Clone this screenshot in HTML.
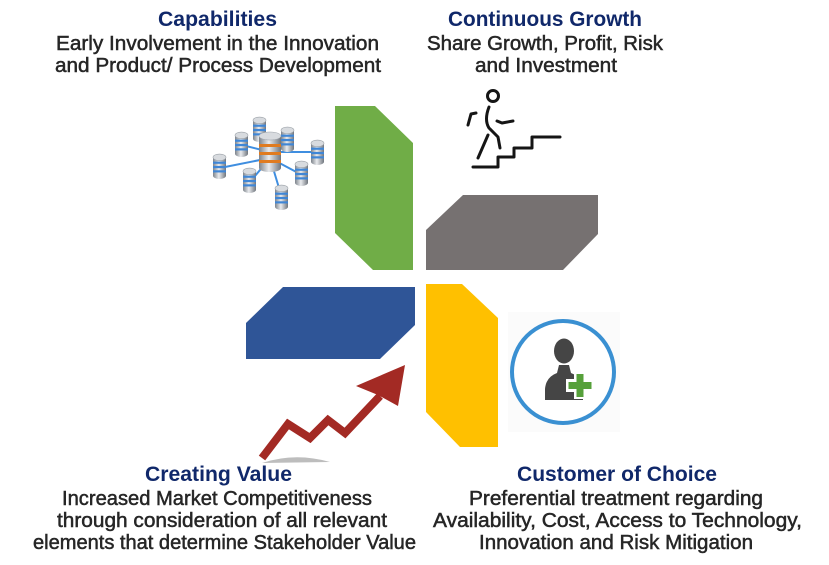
<!DOCTYPE html>
<html><head><meta charset="utf-8"><style>
html,body{margin:0;padding:0;background:#fff;}
svg{display:block;}
.t{font-family:"Liberation Sans","Noto Sans CJK JP",sans-serif;font-weight:bold;font-size:21px;fill:#10286a;}
.b{font-family:"Liberation Sans","Noto Sans CJK JP",sans-serif;font-size:20px;fill:#262626;stroke:#262626;stroke-width:0.5px;}
</style></head><body>
<svg width="829" height="565" viewBox="0 0 829 565" xmlns="http://www.w3.org/2000/svg">
<defs>
<linearGradient id="cg" x1="0" x2="1" y1="0" y2="0">
<stop offset="0" stop-color="#7d838b"/><stop offset="0.45" stop-color="#e9ebee"/><stop offset="1" stop-color="#6f757d"/>
</linearGradient>
<symbol id="cyl" viewBox="0 0 12 23" overflow="visible">
<rect x="0" y="3" width="12" height="17" fill="url(#cg)"/>
<ellipse cx="6" cy="20" rx="6" ry="3" fill="url(#cg)"/>
<rect x="0" y="7" width="12" height="2" fill="#3f86d6"/>
<rect x="0" y="11" width="12" height="2" fill="#3f86d6"/>
<rect x="0" y="15" width="12" height="2" fill="#3f86d6"/>
<ellipse cx="6" cy="3" rx="6" ry="3" fill="#d8dbdf" stroke="#9aa0a7" stroke-width="0.5"/>
</symbol>
</defs>

<!-- shapes -->
<polygon points="335,106 375,106 413,143 413,270 373,270 335,233" fill="#70ad47"/>
<polygon points="426,230 463,195 598,195 598,234 563,270 426,270" fill="#767171"/>
<polygon points="246,323 283,287 415,287 415,325 380,359 246,359" fill="#2f5597"/>
<polygon points="426,284 462,284 498,318 498,447 460,447 426,412" fill="#ffc000"/>

<!-- database icon -->
<g stroke="#3f8ee0" stroke-width="2">
<line x1="270" y1="152" x2="260" y2="130"/>
<line x1="270" y1="152" x2="242" y2="145"/>
<line x1="270" y1="152" x2="288" y2="140"/>
<line x1="270" y1="152" x2="318" y2="152"/>
<line x1="270" y1="158" x2="220" y2="168"/>
<line x1="270" y1="158" x2="250" y2="182"/>
<line x1="270" y1="158" x2="302" y2="175"/>
<line x1="270" y1="158" x2="282" y2="198"/>
</g>
<use href="#cyl" x="253" y="117" width="13" height="25"/>
<use href="#cyl" x="235" y="132" width="13" height="25"/>
<use href="#cyl" x="281" y="127" width="13" height="25"/>
<use href="#cyl" x="311" y="140" width="13" height="25"/>
<g>
<rect x="259" y="136" width="22" height="32" fill="url(#cg)"/>
<ellipse cx="270" cy="168" rx="11" ry="4" fill="url(#cg)"/>
<rect x="259" y="144" width="22" height="3" fill="#e07b20"/>
<rect x="259" y="152" width="22" height="3" fill="#e07b20"/>
<rect x="259" y="160" width="22" height="3" fill="#e07b20"/>
<ellipse cx="270" cy="136" rx="11" ry="4" fill="#d8dbdf" stroke="#9aa0a7" stroke-width="0.5"/>
</g>
<use href="#cyl" x="213" y="154" width="13" height="25"/>
<use href="#cyl" x="243" y="168" width="13" height="25"/>
<use href="#cyl" x="295" y="161" width="13" height="25"/>
<use href="#cyl" x="275" y="185" width="13" height="25"/>

<!-- walking man -->
<g fill="none" stroke="#151515" stroke-width="3" stroke-linecap="round" stroke-linejoin="round">
<circle cx="493" cy="96" r="5.5"/>
<path d="M489,107 Q484,120 489,128 L498,137 L500,148"/>
<path d="M476,113 L471,114 L468,125"/>
<path d="M497,121 L502,123 L513,121"/>
<path d="M488,135 L478,158"/>
<path d="M473,167 L498,167 L498,157 L514,157 L514,148 L532,148 L532,137 L560,137"/>
</g>

<!-- customer icon -->
<rect x="508" y="312" width="112" height="120" fill="#fbfbfb"/>
<circle cx="563" cy="372" r="51" fill="#fff" stroke="#3a90d2" stroke-width="4"/>
<ellipse cx="564" cy="351" rx="10" ry="12.5" fill="#454545"/>
<path d="M545,400 L545,389 Q546,377 557,373 L559,365 L569,365 L571,373 Q582,377 583,389 L583,400 Z" fill="#454545"/>
<g>
<rect x="574" y="372" width="12" height="27" fill="#fff"/>
<rect x="566" y="379" width="28" height="13" fill="#fff"/>
<rect x="576.5" y="374" width="7" height="23" fill="#56a03a"/>
<rect x="568.5" y="382" width="23" height="7" fill="#56a03a"/>
</g>

<!-- arrow -->
<path d="M262,463 Q295,452 330,462 Z" fill="#bdbdbd"/>
<polyline points="262,458 288,424 310,438 328,420 345,433 380,396" fill="none" stroke="#a32a24" stroke-width="8" stroke-linejoin="miter"/>
<polygon points="405,365 398,406 378,395 356,386" fill="#a32a24"/>

<!-- texts -->
<text class="t" x="158" y="26" textLength="119" lengthAdjust="spacingAndGlyphs">Capabilities</text>
<text class="b" x="56" y="50" textLength="323" lengthAdjust="spacingAndGlyphs">Early Involvement in the Innovation</text>
<text class="b" x="55" y="72" textLength="326" lengthAdjust="spacingAndGlyphs">and Product/ Process Development</text>

<text class="t" x="448" y="26" textLength="194" lengthAdjust="spacingAndGlyphs">Continuous Growth</text>
<text class="b" x="427" y="50" textLength="236" lengthAdjust="spacingAndGlyphs">Share Growth, Profit, Risk</text>
<text class="b" x="475" y="72" textLength="142" lengthAdjust="spacingAndGlyphs">and Investment</text>

<text class="t" x="145" y="481" textLength="147" lengthAdjust="spacingAndGlyphs">Creating Value</text>
<text class="b" x="62" y="505" textLength="310" lengthAdjust="spacingAndGlyphs">Increased Market Competitiveness</text>
<text class="b" x="57" y="527" textLength="330" lengthAdjust="spacingAndGlyphs">through consideration of all relevant</text>
<text class="b" x="33" y="549" textLength="383" lengthAdjust="spacingAndGlyphs">elements that determine Stakeholder Value</text>

<text class="t" x="517" y="481" textLength="200" lengthAdjust="spacingAndGlyphs">Customer of Choice</text>
<text class="b" x="469" y="505" textLength="294" lengthAdjust="spacingAndGlyphs">Preferential treatment regarding</text>
<text class="b" x="433" y="527" textLength="369" lengthAdjust="spacingAndGlyphs">Availability, Cost, Access to Technology,</text>
<text class="b" x="479" y="549" textLength="274" lengthAdjust="spacingAndGlyphs">Innovation and Risk Mitigation</text>
</svg>
</body></html>
